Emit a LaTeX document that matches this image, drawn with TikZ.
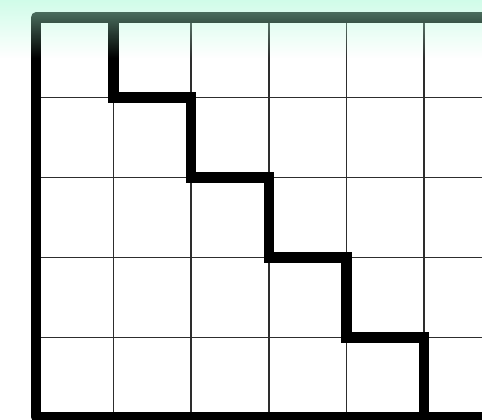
\documentclass[tikz,border=0pt]{standalone}
\usetikzlibrary{fadings}
\definecolor{aquatop}{RGB}{170,250,215}
\definecolor{gridgray}{RGB}{45,45,45}
\tikzfading[name=fadedown, top color=transparent!0, bottom color=transparent!100]
\tikzset{
  thinline/.style={draw=gridgray, line width=1.1pt},
  thickline/.style={draw=black, line width=7.8pt},
}
\begin{document}
\begin{tikzpicture}[x=0.75pt,y=-0.75pt]
\useasboundingbox (0,0) rectangle (482,419);
\fill[white] (0,0) rectangle (482,419);
% named grid coordinates
\foreach \i/\x in {0/36,1/113.6,2/191.2,3/268.8,4/346.4,5/424}{
  \foreach \j/\y in {0/17.5,1/97.5,2/177.5,3/257.5,4/337.5,5/417}{
    \coordinate (p\i\j) at (\x,\y);
  }
}
\coordinate (rt) at (482,17.5);
\coordinate (rb) at (482,417);
% thin grid lines
\foreach \i in {1,...,5}{ \draw[thinline] (p\i0) -- (p\i5); }
\foreach \j in {1,...,4}{ \draw[thinline] (p0\j) -- (482,0|-p0\j); }
% outer border
\draw[thickline, line join=round] (rt) -- (p00) -- (p05) -- (rb);
% staircase
\draw[thickline] (p10) -- (p11) -- (p21) -- (p22) -- (p32) -- (p33) -- (p43) -- (p44) -- (p54) -- (p55);
% top gradient overlay
\fill[aquatop, fill opacity=0.55, path fading=fadedown] (0,0) rectangle (482,58);
\end{tikzpicture}
\end{document}
